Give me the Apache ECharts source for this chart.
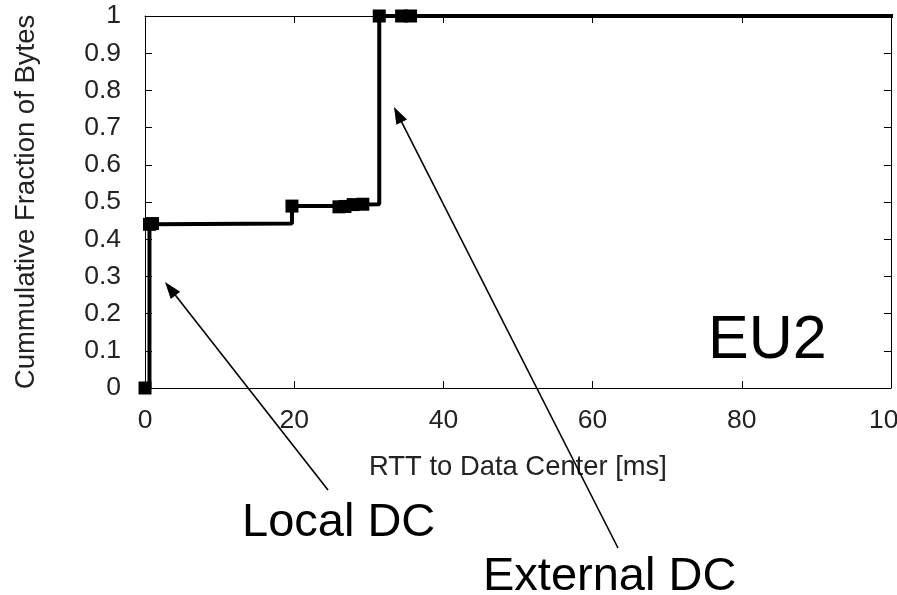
<!DOCTYPE html>
<html>
<head>
<meta charset="utf-8">
<script src="https://cdn.jsdelivr.net/npm/echarts@6/dist/echarts.min.js"></script>
<style>
html,body{margin:0;padding:0;background:#fff;}
#chart{width:897px;height:595px;}
</style>
</head>
<body>
<div id="chart"></div>
<script>
// ---- data ----
const rttMs = [0, 0.6, 1.0, 19.7, 26.0, 26.8, 27.9, 29.2, 31.4, 34.4, 35.6, 120];
const cumFraction = [0, 0.44, 0.442, 0.489, 0.487, 0.488, 0.493, 0.494, 1, 1, 1, 1];
const xTickLabels = ['0', '20', '40', '60', '80', '100'];
const yTickLabels = ['0', '0.1', '0.2', '0.3', '0.4', '0.5', '0.6', '0.7', '0.8', '0.9', '1'];
const xTitle = 'RTT to Data Center [ms]';
const yTitle = 'Cummulative Fraction of Bytes';
const annotations = ['Local DC', 'External DC', 'EU2'];

const FONT = '"Liberation Sans", Arial, sans-serif';
const chart = echarts.init(document.getElementById('chart'), null, {renderer: 'canvas'});

const seriesData = rttMs.map((x, i) => [x, cumFraction[i]]);

function arrow(tail, tip) {
  const dx = tip[0] - tail[0], dy = tip[1] - tail[1];
  const len = Math.hypot(dx, dy);
  const ux = dx / len, uy = dy / len;
  const L = 17, W = 6;
  const bx = tip[0] - ux * L, by = tip[1] - uy * L;
  return [
    {type: 'line', shape: {x1: tail[0], y1: tail[1], x2: bx + ux * 2, y2: by + uy * 2},
     style: {stroke: '#000', lineWidth: 1.6}, z: 100},
    {type: 'polygon', shape: {points: [tip, [bx - uy * W, by + ux * W], [bx + uy * W, by - ux * W]]},
     style: {fill: '#000'}, z: 100}
  ];
}

const axisCommon = {
  axisLine: {show: true, onZero: false, lineStyle: {color: '#000', width: 1}},
  axisTick: {show: true, inside: true, length: 7, lineStyle: {color: '#000', width: 1}},
  splitLine: {show: false}
};

const option = {
  backgroundColor: '#fff',
  animation: false,
  grid: {left: 145, right: 6, top: 16, bottom: 207, containLabel: false, outerBoundsMode: 'none'},
  xAxis: [
    Object.assign({
      type: 'value', min: 0, max: 100, interval: 20, position: 'bottom',
      name: xTitle, nameLocation: 'middle', nameGap: 66,
      nameTextStyle: {fontFamily: FONT, fontSize: 27.4, color: '#222'},
      axisLabel: {margin: 19, fontFamily: FONT, fontSize: 26.5, color: '#222',
        formatter: v => xTickLabels[Math.round(v / 20)]}
    }, axisCommon),
    Object.assign({
      type: 'value', min: 0, max: 100, interval: 20, position: 'top',
      axisLabel: {show: false}
    }, axisCommon)
  ],
  yAxis: [
    Object.assign({
      type: 'value', min: 0, max: 1, interval: 0.1, position: 'left',
      name: yTitle, nameLocation: 'middle', nameRotate: 90, nameGap: 105,
      nameTextStyle: {fontFamily: FONT, fontSize: 27.5, color: '#222'},
      axisLabel: {margin: 24, fontFamily: FONT, fontSize: 26.5, color: '#222',
        formatter: v => yTickLabels[Math.round(v * 10)]}
    }, axisCommon),
    Object.assign({
      type: 'value', min: 0, max: 1, interval: 0.1, position: 'right',
      axisLabel: {show: false}
    }, axisCommon)
  ],
  series: [{
    type: 'line',
    data: seriesData,
    step: 'end',
    clip: true,
    symbol: 'rect',
    symbolSize: 13,
    showAllSymbol: true,
    lineStyle: {color: '#000', width: 4},
    itemStyle: {color: '#000'},
    z: 10
  }],
  graphic: [].concat(
    arrow([328, 490], [165, 282]),
    arrow([618, 548], [394, 107]),
    [
      {type: 'text', x: 242, y: 523, style: {text: annotations[0], font: '47px ' + FONT, fill: '#000', textAlign: 'left', textVerticalAlign: 'middle'}, z: 100},
      {type: 'text', x: 483, y: 577, style: {text: annotations[1], font: '47px ' + FONT, fill: '#000', textAlign: 'left', textVerticalAlign: 'middle'}, z: 100},
      {type: 'text', x: 708, y: 341, style: {text: annotations[2], font: '61px ' + FONT, fill: '#000', textAlign: 'left', textVerticalAlign: 'middle'}, z: 100}
    ]
  )
};
chart.setOption(option);
</script>
</body>
</html>
